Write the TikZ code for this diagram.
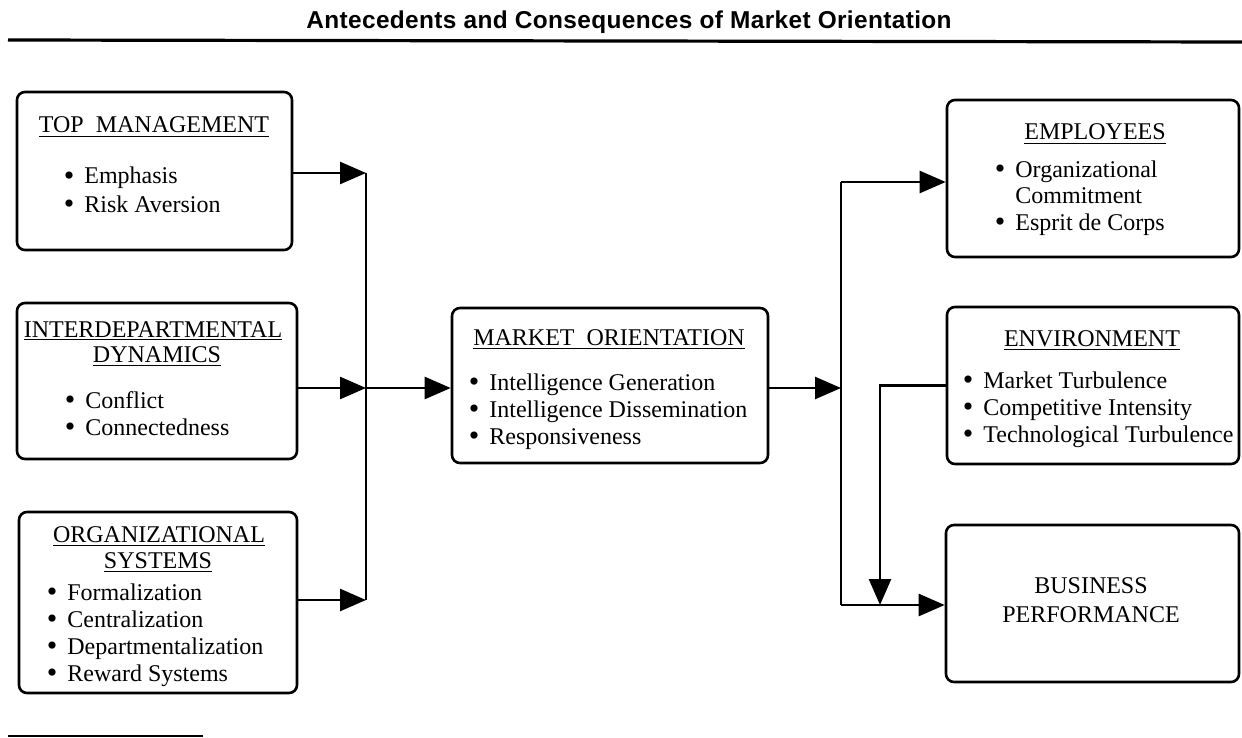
\documentclass[tikz,border=0pt]{standalone}
\usepackage{fontspec}
\setmainfont{Liberation Serif}
\newfontfamily\titlefont[LetterSpace=1.5]{Liberation Sans}
\usetikzlibrary{arrows.meta,fit}

\tikzset{
  box/.style={draw, line width=1.3pt, rounded corners=4pt, inner sep=0pt},
  wire/.style={line width=1.3pt},
  arr/.style={wire, -{Triangle[length=13pt,width=11pt]}},
  item/.style={anchor=base west, inner sep=0pt, font=\fontsize{12}{14}\selectfont},
  head/.style={anchor=base, inner sep=0pt, font=\fontsize{12}{14}\selectfont},
}
% list bullet hanging to the left of the item text
\newcommand\bul{\llap{\smash{\raisebox{-0.9pt}{\fontsize{15}{15}\selectfont\textbullet}}\hspace{5pt}}}

\begin{document}
\begin{tikzpicture}[x=0.5pt,y=-0.5pt]
\useasboundingbox (0,0) rectangle (1242,738);

% title and rules
\node[anchor=base, inner sep=0pt, font=\titlefont\bfseries\fontsize{12.2}{14}\selectfont] (title) at (629,29)
  {Antecedents and Consequences of Market Orientation};
\draw[line width=1.6pt] (8,40) coordinate (ruleL) -- (1242,42) coordinate (ruleR);
\draw[line width=1.4pt] (8,736) coordinate (footL) -- (203,736) coordinate (footR);

% boxes
\node[box, fit={(17,92) (292,250)}] (top) {};
\node[box, fit={(17,303) (297,459)}] (inter) {};
\node[box, fit={(19,512) (297,693)}] (org) {};
\node[box, fit={(452,308) (768,463)}] (mo) {};
\node[box, fit={(947,100) (1239,257)}] (emp) {};
\node[box, fit={(947,307) (1239,464)}] (env) {};
\node[box, fit={(946,525) (1239,682)}] (bp) {};

% top management
\node[head] (topH) at (154,133) {\underline{TOP\ \ MANAGEMENT}};
\node[item] (top1) at (84,184) {\bul Emphasis};
\node[item] (top2) at (84,212) {\bul Risk Aversion};

% interdepartmental dynamics
\node[head] (interH1) at (153,337) {\underline{INTERDEPARTMENTAL}};
\node[head] (interH2) at (157,362) {\underline{DYNAMICS}};
\node[item] (inter1) at (85,408) {\bul Conflict};
\node[item] (inter2) at (85,435) {\bul Connectedness};

% organizational systems
\node[head] (orgH1) at (159,542) {\underline{ORGANIZATIONAL}};
\node[head] (orgH2) at (158,568) {\underline{SYSTEMS}};
\node[item] (org1) at (67,600) {\bul Formalization};
\node[item] (org2) at (67,627) {\bul Centralization};
\node[item] (org3) at (67,654) {\bul Departmentalization};
\node[item] (org4) at (67,681) {\bul Reward Systems};

% market orientation
\node[head] (moH) at (609,345) {\underline{MARKET\ \ ORIENTATION}};
\node[item] (mo1) at (489,390) {\bul Intelligence Generation};
\node[item] (mo2) at (489,417) {\bul Intelligence Dissemination};
\node[item] (mo3) at (489,444) {\bul Responsiveness};

% employees
\node[head] (empH) at (1095,140) {\underline{EMPLOYEES}};
\node[item] (emp1) at (1015,177) {\bul Organizational};
\node[item] (emp2) at (1015,203) {Commitment};
\node[item] (emp3) at (1015,230) {\bul Esprit de Corps};

% environment
\node[head] (envH) at (1092,346) {\underline{ENVIRONMENT}};
\node[item] (env1) at (983,388) {\bul Market Turbulence};
\node[item] (env2) at (983,415) {\bul Competitive Intensity};
\node[item] (env3) at (983,442) {\bul Technological Turbulence};

% business performance
\node[head] (bpH1) at (1091,593) {BUSINESS};
\node[head] (bpH2) at (1091,622) {PERFORMANCE};

% junctions
\coordinate (jA) at (366,173);
\coordinate (jB) at (366,388);
\coordinate (jC) at (366,600);
\coordinate (kA) at (841,182);
\coordinate (kB) at (841,388);
\coordinate (kC) at (841,605);
\coordinate (mC) at (880,605);

% antecedents into the left bus
\draw[wire] (jA) -- (jC);
\draw[arr] (top.east |- jA) -- (jA);
\draw[arr] (inter.east |- jB) -- (jB);
\draw[arr] (org.east |- jC) -- (jC);
\draw[arr] (jB) -- (mo.west |- jB);

% consequences from the right bus
\draw[arr] (mo.east |- kB) -- (kB);
\draw[wire] (kA) -- (kC);
\draw[arr] (kA) -- (emp.west |- kA);
\draw[arr] (kC) -- (bp.west |- kC);

% moderating effect of the environment
\draw[arr] (env.west) -| (mC);
\end{tikzpicture}
\end{document}
